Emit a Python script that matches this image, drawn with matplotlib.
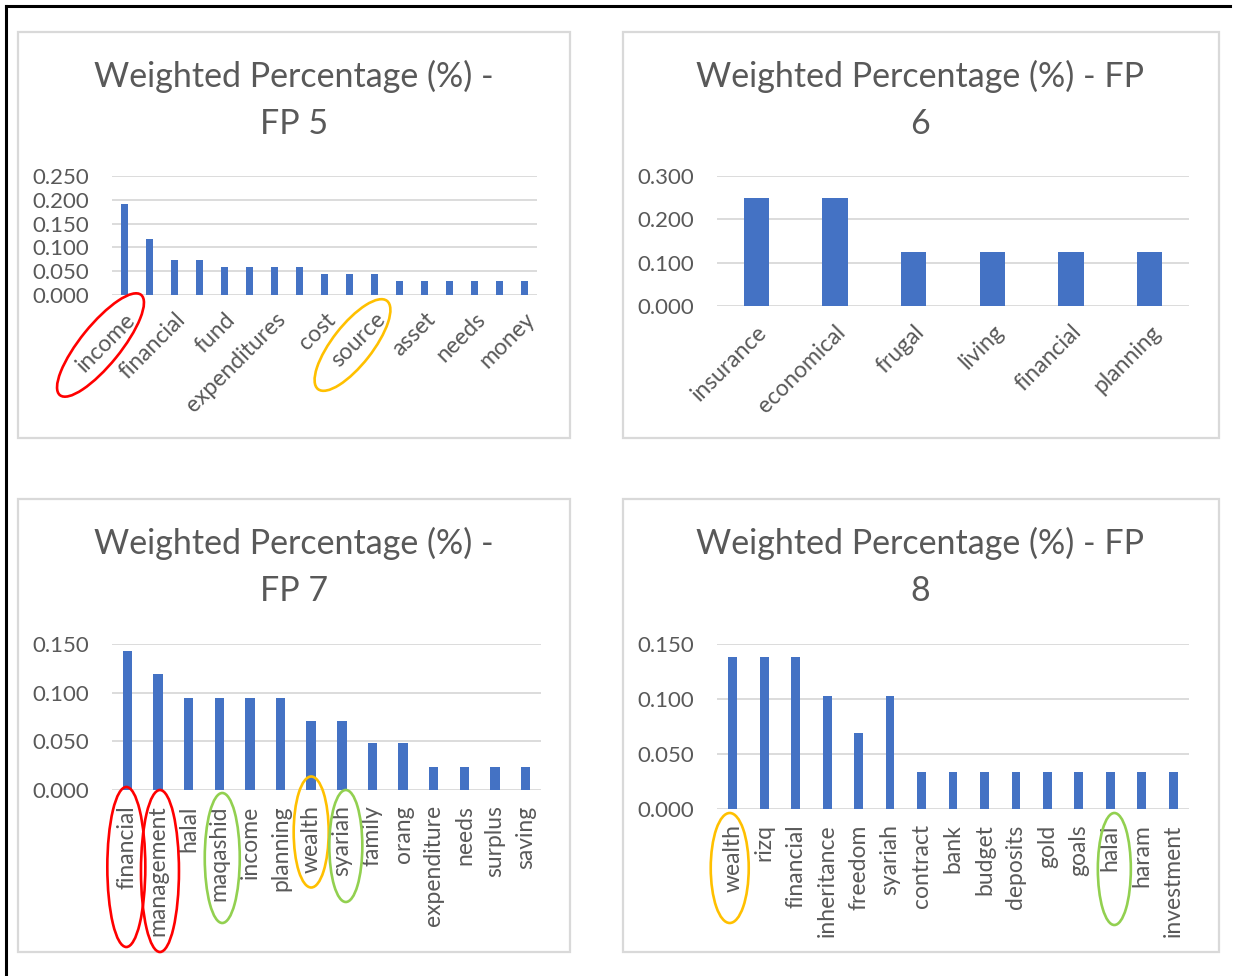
import matplotlib
matplotlib.use("Agg")
import matplotlib.pyplot as plt
import matplotlib.transforms as mtransforms
from matplotlib.patches import Ellipse, Rectangle
from matplotlib.lines import Line2D
from matplotlib.ticker import MultipleLocator, FormatStrFormatter

# ---- data -------------------------------------------------------------
fp5_values = [0.191, 0.118, 0.074, 0.074, 0.059, 0.059, 0.059, 0.059,
              0.044, 0.044, 0.044, 0.029, 0.029, 0.029, 0.029, 0.029, 0.029]
# only every second category is labelled on the FP 5 axis
fp5_labels = ["income", "financial", "fund", "expenditures", "cost",
              "source", "asset", "needs", "money"]

fp6_labels = ["insurance", "economical", "frugal", "living", "financial", "planning"]
fp6_values = [0.250, 0.250, 0.125, 0.125, 0.125, 0.125]

fp7_labels = ["financial", "management", "halal", "maqashid", "income", "planning",
              "wealth", "syariah", "family", "orang", "expenditure", "needs",
              "surplus", "saving"]
fp7_values = [0.143, 0.119, 0.095, 0.095, 0.095, 0.095, 0.071, 0.071,
              0.048, 0.048, 0.024, 0.024, 0.024, 0.024]

fp8_labels = ["wealth", "rizq", "financial", "inheritance", "freedom", "syariah",
              "contract", "bank", "budget", "deposits", "gold", "goals", "halal",
              "haram", "investment"]
fp8_values = [0.138, 0.138, 0.138, 0.103, 0.069, 0.103, 0.034, 0.034, 0.034,
              0.034, 0.034, 0.034, 0.034, 0.034, 0.034]

# ---- style ------------------------------------------------------------
W, H, DPI = 1234, 976, 100
BAR = "#4472C4"
GRID = "#D9D9D9"
TXT = "#595959"
RED, ORANGE, GREEN = "#FF0000", "#FFC000", "#92D050"
FONT = "Lato"
YSIZE, XSIZE, TSIZE = 16, 16.5, 24.5
plt.rcParams["font.family"] = [FONT, "DejaVu Sans"]

fig = plt.figure(figsize=(W / DPI, H / DPI), dpi=DPI)
fig.patch.set_facecolor("white")

# pixel coordinates measured from the top-left corner
px = mtransforms.Affine2D().scale(1 / W, -1 / H).translate(0, 1) + fig.transFigure


def add_axes_px(x0, y0, x1, y1):
    return fig.add_axes([x0 / W, 1 - y1 / H, (x1 - x0) / W, (y1 - y0) / H])


def style(ax, ymax, step, n):
    ax.set_xlim(-0.5, n - 0.5)
    ax.set_ylim(0, ymax)
    ax.yaxis.set_major_locator(MultipleLocator(step))
    ax.yaxis.set_major_formatter(FormatStrFormatter("%.3f"))
    for s in ax.spines.values():
        s.set_visible(False)
    ax.grid(axis="y", color=GRID, linewidth=1.3)
    ax.set_axisbelow(True)
    ax.tick_params(axis="both", length=0, colors=TXT)
    ax.tick_params(axis="y", pad=16.5, labelsize=YSIZE)
    ax.tick_params(axis="x", labelsize=XSIZE)


def frame(x0, y0, x1, y1):
    fig.patches.append(Rectangle((x0, y0), x1 - x0, y1 - y0, transform=px,
                                 facecolor="none", edgecolor=GRID, linewidth=1.6))


def title(cx, cy, text):
    fig.text(cx / W, 1 - cy / H, text, ha="center", va="center", color=TXT,
             fontsize=TSIZE, linespacing=1.57)


def ring(ax, idx, dx, dy, w, h, angle, color):
    bx, by = ax.transData.transform((idx, 0))
    bx_px, by_px = bx, H - by
    fig.patches.append(Ellipse((bx_px + dx, by_px + dy), w, h, angle=angle,
                               transform=px, facecolor="none", edgecolor=color,
                               linewidth=1.9, clip_on=False))


# outer border (left and top edges)
fig.lines.append(Line2D([6, 6], [6, H], transform=px, color="black", linewidth=2.2))
fig.lines.append(Line2D([6, 1230], [6, 6], transform=px, color="black", linewidth=2.2))

# panel frames and titles
frame(18, 32, 570, 438)
frame(623, 32, 1219, 438)
frame(18, 499, 570, 952)
frame(623, 499, 1219, 952)
title(294, 100, "Weighted Percentage (%) -\nFP 5")
title(920, 100, "Weighted Percentage (%) - FP\n6")
title(294, 567, "Weighted Percentage (%) -\nFP 7")
title(920, 567, "Weighted Percentage (%) - FP\n8")

# FP 5
ax5 = add_axes_px(112, 176, 537, 295)
x5 = list(range(len(fp5_values)))
ax5.bar(x5, fp5_values, width=0.3, color=BAR)
style(ax5, 0.25, 0.05, len(fp5_values))
ax5.set_xticks(x5[::2])
ax5.set_xticklabels(fp5_labels, rotation=45, ha="right", va="top",
                    rotation_mode="anchor")
ax5.tick_params(axis="x", pad=10)

# FP 6
ax6 = add_axes_px(717, 176, 1189, 306)
x6 = list(range(len(fp6_values)))
ax6.bar(x6, fp6_values, width=0.32, color=BAR)
style(ax6, 0.30, 0.10, len(fp6_values))
ax6.set_xticks(x6)
ax6.set_xticklabels(fp6_labels, rotation=45, ha="right", va="top",
                    rotation_mode="anchor")
ax6.tick_params(axis="x", pad=11)

# FP 7
ax7 = add_axes_px(112, 644, 541, 790)
x7 = list(range(len(fp7_values)))
ax7.bar(x7, fp7_values, width=0.31, color=BAR)
style(ax7, 0.15, 0.05, len(fp7_values))
ax7.set_xticks(x7)
ax7.set_xticklabels(fp7_labels, rotation=90, ha="right", va="center",
                    rotation_mode="anchor")
ax7.tick_params(axis="x", pad=11)

# FP 8
ax8 = add_axes_px(717, 644, 1189, 809)
x8 = list(range(len(fp8_values)))
ax8.bar(x8, fp8_values, width=0.28, color=BAR)
style(ax8, 0.15, 0.05, len(fp8_values))
ax8.set_xticks(x8)
ax8.set_xticklabels(fp8_labels, rotation=90, ha="right", va="center",
                    rotation_mode="anchor")
ax8.tick_params(axis="x", pad=11)

# highlighted terms
ring(ax5, 0, -24, 50, 129, 40, -51, RED)
ring(ax5, 10, -22, 50, 112, 40, -52, ORANGE)
ring(ax7, 0, -1, 77, 38, 160, 0, RED)
ring(ax7, 1, 2, 81, 38, 162, 0, RED)
ring(ax7, 3, 3, 68, 35, 130, 0, GREEN)
ring(ax7, 6, 0, 42, 35, 111, 0, ORANGE)
ring(ax7, 7, 4, 56, 33, 112, 0, GREEN)
ring(ax8, 0, -3, 59, 38, 110, 0, ORANGE)
ring(ax8, 12, 4, 60, 33, 112, 0, GREEN)

fig.savefig("out.png", dpi=DPI, facecolor="white")
